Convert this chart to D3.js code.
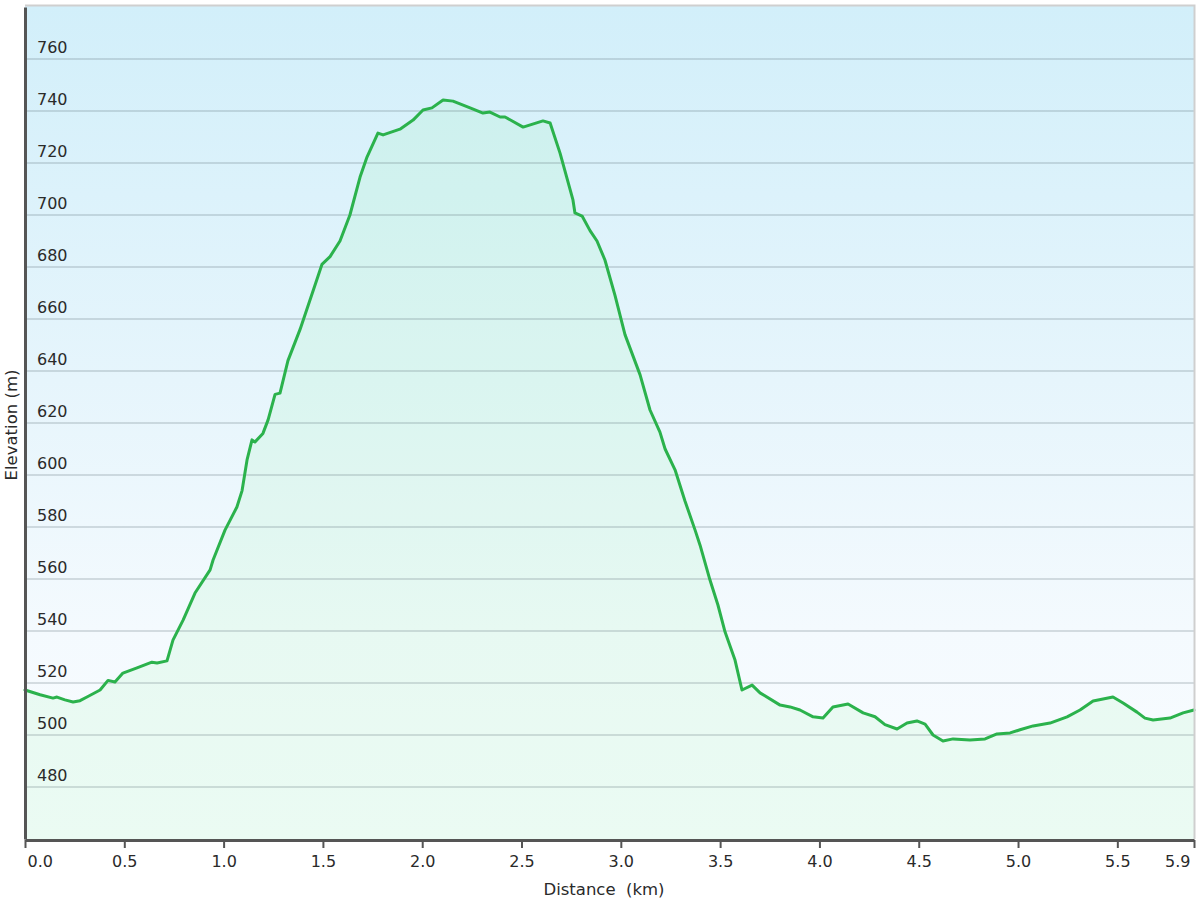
<!DOCTYPE html>
<html>
<head>
<meta charset="utf-8">
<script src="https://cdn.jsdelivr.net/npm/d3@7"></script>
<style>
  html, body { margin: 0; padding: 0; background: #ffffff; }
  svg { display: block; font-family: "DejaVu Sans", Verdana, sans-serif; }
</style>
</head>
<body>
<svg id="chart" width="1200" height="900"></svg>
<script>
// Distance along the route (km)
const distanceKm = [
  0.000, 0.076, 0.141, 0.161, 0.201, 0.242, 0.277, 0.312, 0.378, 0.418,
  0.453, 0.493, 0.564, 0.639, 0.665, 0.715, 0.745, 0.796, 0.856, 0.932,
  0.947, 1.007, 1.067, 1.093, 1.118, 1.143, 1.158, 1.198, 1.224, 1.259,
  1.284, 1.324, 1.385, 1.460, 1.495, 1.536, 1.586, 1.636, 1.687, 1.722,
  1.777, 1.803, 1.888, 1.954, 2.004, 2.049, 2.105, 2.155, 2.241, 2.306,
  2.341, 2.392, 2.417, 2.508, 2.608, 2.644, 2.694, 2.759, 2.769, 2.805,
  2.845, 2.880, 2.920, 2.971, 3.021, 3.097, 3.147, 3.197, 3.223, 3.273,
  3.323, 3.374, 3.399, 3.449, 3.489, 3.525, 3.575, 3.610, 3.661, 3.701,
  3.802, 3.852, 3.902, 3.968, 4.018, 4.068, 4.144, 4.220, 4.280, 4.330,
  4.391, 4.441, 4.491, 4.532, 4.572, 4.622, 4.673, 4.758, 4.834, 4.894,
  4.960, 5.010, 5.076, 5.161, 5.247, 5.312, 5.378, 5.478, 5.529, 5.599,
  5.639, 5.680, 5.765, 5.831, 5.886
];
// Elevation (m)
const elevationM = [
  517.3, 515.5, 514.2, 514.6, 513.5, 512.7, 513.2, 514.6, 517.3, 521.0,
  520.4, 523.8, 525.8, 528.0, 527.7, 528.5, 536.5, 544.2, 554.6, 563.5,
  567.3, 578.8, 587.7, 594.0, 605.8, 613.5, 612.7, 616.0, 621.2, 631.0,
  631.5, 644.0, 656.0, 673.0, 681.0, 684.0, 690.0, 700.0, 714.6, 722.3,
  731.5, 730.8, 733.0, 736.5, 740.4, 741.2, 744.2, 743.8, 741.2, 739.2,
  739.6, 737.7, 737.7, 733.8, 736.2, 735.4, 723.8, 705.8, 700.8, 699.6,
  694.0, 690.0, 682.7, 669.0, 654.0, 638.5, 625.0, 616.5, 610.0, 602.0,
  590.0, 578.8, 573.0, 559.6, 550.0, 539.6, 528.8, 517.3, 519.2, 516.2,
  511.5, 510.8, 509.6, 507.0, 506.5, 510.8, 511.9, 508.5, 507.0, 504.0,
  502.3, 504.6, 505.4, 504.2, 500.0, 497.7, 498.5, 498.1, 498.5, 500.4,
  500.8, 502.0, 503.5, 504.6, 507.0, 509.6, 513.1, 514.6, 512.3, 508.8,
  506.5, 505.8, 506.5, 508.5, 509.6
];
// Axis ticks
const xTickValues = [0, 0.5, 1.0, 1.5, 2.0, 2.5, 3.0, 3.5, 4.0, 4.5, 5.0, 5.5, 5.886];
const xTickLabels = ["0.0", "0.5", "1.0", "1.5", "2.0", "2.5", "3.0", "3.5", "4.0", "4.5", "5.0", "5.5", "5.9"];
const yTickValues = [480, 500, 520, 540, 560, 580, 600, 620, 640, 660, 680, 700, 720, 740, 760];
const yTickLabels = yTickValues.map(String);
const xTitle = "Distance  (km)";
const yTitle = "Elevation (m)";

const data = distanceKm.map((d, i) => ({ d, e: elevationM[i] }));

const svg = d3.select("#chart");
const plotLeft = 25, plotRight = 1194, plotTop = 6, plotBottom = 839;

const x = d3.scaleLinear().domain([0, 5.886]).range([plotLeft, plotRight]);
const y = d3.scaleLinear().domain([460, 780]).range([plotBottom, plotTop + 1]);

const defs = svg.append("defs");
const bg = defs.append("linearGradient").attr("id", "bg").attr("x1", 0).attr("y1", 0).attr("x2", 0).attr("y2", 1);
bg.append("stop").attr("offset", "0%").attr("stop-color", "#d2effa");
bg.append("stop").attr("offset", "45%").attr("stop-color", "#e6f5fc");
bg.append("stop").attr("offset", "75%").attr("stop-color", "#f4fafe");
bg.append("stop").attr("offset", "100%").attr("stop-color", "#f9fcff");

// plot background
svg.append("rect")
  .attr("x", plotLeft).attr("y", plotTop)
  .attr("width", plotRight - plotLeft).attr("height", plotBottom - plotTop)
  .attr("fill", "url(#bg)");

// area under the profile
const area = d3.area()
  .x(p => x(p.d))
  .y0(y(460))
  .y1(p => y(p.e));
svg.append("path")
  .datum(data)
  .attr("d", area)
  .attr("fill", "rgba(130,245,150,0.11)");

// grid lines
svg.append("g")
  .selectAll("line")
  .data(yTickValues)
  .join("line")
  .attr("x1", plotLeft).attr("x2", plotRight)
  .attr("y1", v => y(v)).attr("y2", v => y(v))
  .attr("stroke", "rgba(90,110,120,0.22)")
  .attr("stroke-width", 2);

// y labels inside the plot
svg.append("g")
  .selectAll("text")
  .data(yTickValues)
  .join("text")
  .attr("x", 37)
  .attr("y", v => y(v) - 6)
  .attr("font-size", 16)
  .attr("fill", "#2a2a2a")
  .text((v, i) => yTickLabels[i]);

// profile line
const line = d3.line().x(p => x(p.d)).y(p => y(p.e));
svg.append("path")
  .datum(data)
  .attr("d", line)
  .attr("fill", "none")
  .attr("stroke", "#2bb24c")
  .attr("stroke-width", 3)
  .attr("stroke-linejoin", "round")
  .attr("stroke-linecap", "round");

// frame (top/right)
svg.append("path")
  .attr("d", `M${plotLeft},${plotTop - 0.5}H${plotRight + 0.5}V${plotBottom}`)
  .attr("fill", "none")
  .attr("stroke", "#cfcfcf")
  .attr("stroke-width", 2);

// x axis
const xAxis = d3.axisBottom(x)
  .tickValues(xTickValues)
  .tickFormat((v, i) => xTickLabels[i])
  .tickSize(8)
  .tickSizeOuter(0)
  .tickPadding(8);
const gx = svg.append("g").attr("transform", `translate(0,${plotBottom + 1})`).call(xAxis);
gx.select(".domain").attr("stroke", "#555").attr("stroke-width", 3);
gx.selectAll(".tick line").attr("stroke", "#555").attr("stroke-width", 2);
gx.selectAll(".tick text")
  .attr("font-size", 16)
  .attr("font-family", "DejaVu Sans, Verdana, sans-serif")
  .attr("fill", "#2a2a2a")
  .attr("text-anchor", (v, i) => i === 0 ? "start" : (i === xTickValues.length - 1 ? "end" : "middle"))
  .attr("dx", (v, i) => i === 0 ? 2 : (i === xTickValues.length - 1 ? -4 : 0));

// y axis line
const yAxis = d3.axisLeft(y).tickValues([]).tickSizeOuter(0);
const gy = svg.append("g").attr("transform", `translate(${plotLeft},0)`).call(yAxis);
gy.select(".domain").attr("stroke", "#555").attr("stroke-width", 3);

// titles
svg.append("text")
  .attr("x", 604).attr("y", 895)
  .attr("text-anchor", "middle")
  .attr("font-size", 16.5)
  .attr("fill", "#2a2a2a")
  .style("white-space", "pre")
  .text(xTitle);

svg.append("text")
  .attr("transform", "translate(17,425) rotate(-90)")
  .attr("text-anchor", "middle")
  .attr("font-size", 16.5)
  .attr("fill", "#2a2a2a")
  .text(yTitle);
</script>
</body>
</html>
